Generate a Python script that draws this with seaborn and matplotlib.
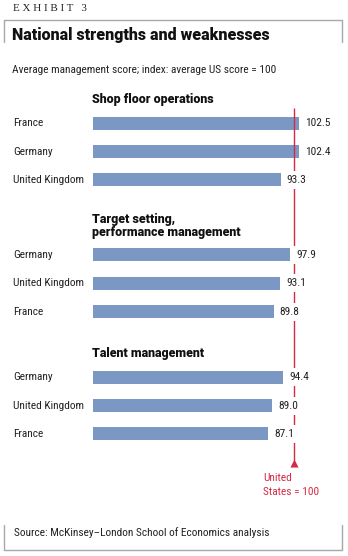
import matplotlib
matplotlib.use("Agg")
import matplotlib.pyplot as plt
import matplotlib.transforms as mtransforms
import seaborn as sns
import pandas as pd

# --- data -------------------------------------------------------------
groups = ["Shop floor operations",
          "Target setting,\nperformance management",
          "Talent management"]
shop_countries = ["France", "Germany", "United Kingdom"]
shop_scores = [102.5, 102.4, 93.3]
target_countries = ["Germany", "United Kingdom", "France"]
target_scores = [97.9, 93.1, 89.8]
talent_countries = ["Germany", "United Kingdom", "France"]
talent_scores = [94.4, 89.0, 87.1]
us_benchmark = 100

panels = [(groups[0], shop_countries, shop_scores),
          (groups[1], target_countries, target_scores),
          (groups[2], talent_countries, talent_scores)]

# --- style ------------------------------------------------------------
sns.set_theme(style="white")
COND = ["Roboto Condensed", "Archivo Narrow", "Liberation Sans Narrow", "DejaVu Sans"]
BOLD = ["Roboto", "Liberation Sans", "DejaVu Sans"]
SERIF = ["Liberation Serif", "DejaVu Serif"]
plt.rcParams["font.family"] = COND

BAR = "#7b97c3"
RED = "#d42a45"
GREY = "#a8a8a8"
INK = "#222222"
W, H = 348, 556
FS = 8.2

fig = plt.figure(figsize=(W / 100, H / 100), dpi=100)
fig.patch.set_facecolor("white")

# pixel-space overlay for frame, titles and annotations
ov = fig.add_axes([0, 0, 1, 1], zorder=5)
ov.set_xlim(0, W)
ov.set_ylim(H, 0)
ov.axis("off")
ov.patch.set_alpha(0)

def fig_rect(x0, y0, x1, y1):
    return [x0 / W, 1 - y1 / H, (x1 - x0) / W, (y1 - y0) / H]

# horizontal scale: 0 at x=92.5 px, 100 at x=294.3 px
px_per_unit = (294.3 - 92.5) / 100
ax_left, ax_right = 92.5, 340
xmax = (ax_right - ax_left) / px_per_unit

row_h = 28.3
panel_tops = [109.2, 240.8, 363.2]
axes = []
for (title, countries, scores), top in zip(panels, panel_tops):
    ax = fig.add_axes(fig_rect(ax_left, top, ax_right, top + 3 * row_h), zorder=1)
    df = pd.DataFrame({"country": countries, "score": scores})
    sns.barplot(data=df, x="score", y="country", color=BAR, saturation=1,
                width=0.46, ax=ax, linewidth=0)
    ax.set_xlim(0, xmax)
    ax.set_ylim(2.5, -0.5)
    ax.axis("off")
    ax.patch.set_alpha(0)
    axes.append((ax, countries, scores))

# benchmark line (above bars, beneath value labels)
bt = mtransforms.blended_transform_factory(axes[0][0].transData, ov.transData)
ov.plot([us_benchmark, us_benchmark], [108, 461], color=RED, lw=1,
        transform=bt, zorder=1, solid_capstyle="butt")
ov.scatter([us_benchmark], [463], marker="^", s=34, color=RED,
           transform=bt, zorder=1, linewidths=0)

for ax, countries, scores in axes:
    for i, (c, v) in enumerate(zip(countries, scores)):
        tr = mtransforms.blended_transform_factory(ov.transData, ax.transData)
        ov.text(13, i, c, transform=tr, ha="left", va="center",
                fontsize=FS, color=INK)
        off = mtransforms.offset_copy(ax.transData, fig=fig, x=6, y=0, units="dots")
        ov.text(v, i, f"{v:.1f}", transform=off, ha="left", va="center",
                fontsize=FS, color=INK, zorder=3,
                bbox=dict(boxstyle="square,pad=0.35", fc="white", ec="none"))

# group headings
head_kw = dict(ha="left", va="center", fontsize=8.9, fontweight=900,
               family=BOLD, color="#111111")
ov.text(92.5, 100, groups[0], **head_kw)
ov.text(92.5, 226, groups[1], linespacing=1.05, **head_kw)
ov.text(92.5, 354, groups[2], **head_kw)

# benchmark caption
ov.text(263, 478, "United", ha="left", va="center", fontsize=FS, color=RED)
ov.text(263, 492, "States = 100", ha="left", va="center", fontsize=FS, color=RED)

# header
ov.text(13, 8.5, "E X H I B I T   3", ha="left", va="center", fontsize=7.9,
        family=SERIF, color=INK)
ov.plot([4, 342], [20, 20], color=GREY, lw=1)
ov.plot([4, 4], [20, 41.5], color=GREY, lw=1)
ov.plot([342, 342], [20, 41.5], color=GREY, lw=1)
ov.text(12, 35, "National strengths and weaknesses", ha="left", va="center",
        fontsize=11.5, fontweight=900, family=BOLD, color="#111111")
ov.text(12, 70, "Average management score; index: average US score = 100",
        ha="left", va="center", fontsize=FS, color=INK)

# footer
ov.plot([4, 4, 342, 342], [525, 549.5, 549.5, 525], color=GREY, lw=1)
ov.text(14, 533, "Source: McKinsey\u2013London School of Economics analysis",
        ha="left", va="center", fontsize=FS, color=INK)

fig.savefig("out.png", dpi=100, facecolor="white")
